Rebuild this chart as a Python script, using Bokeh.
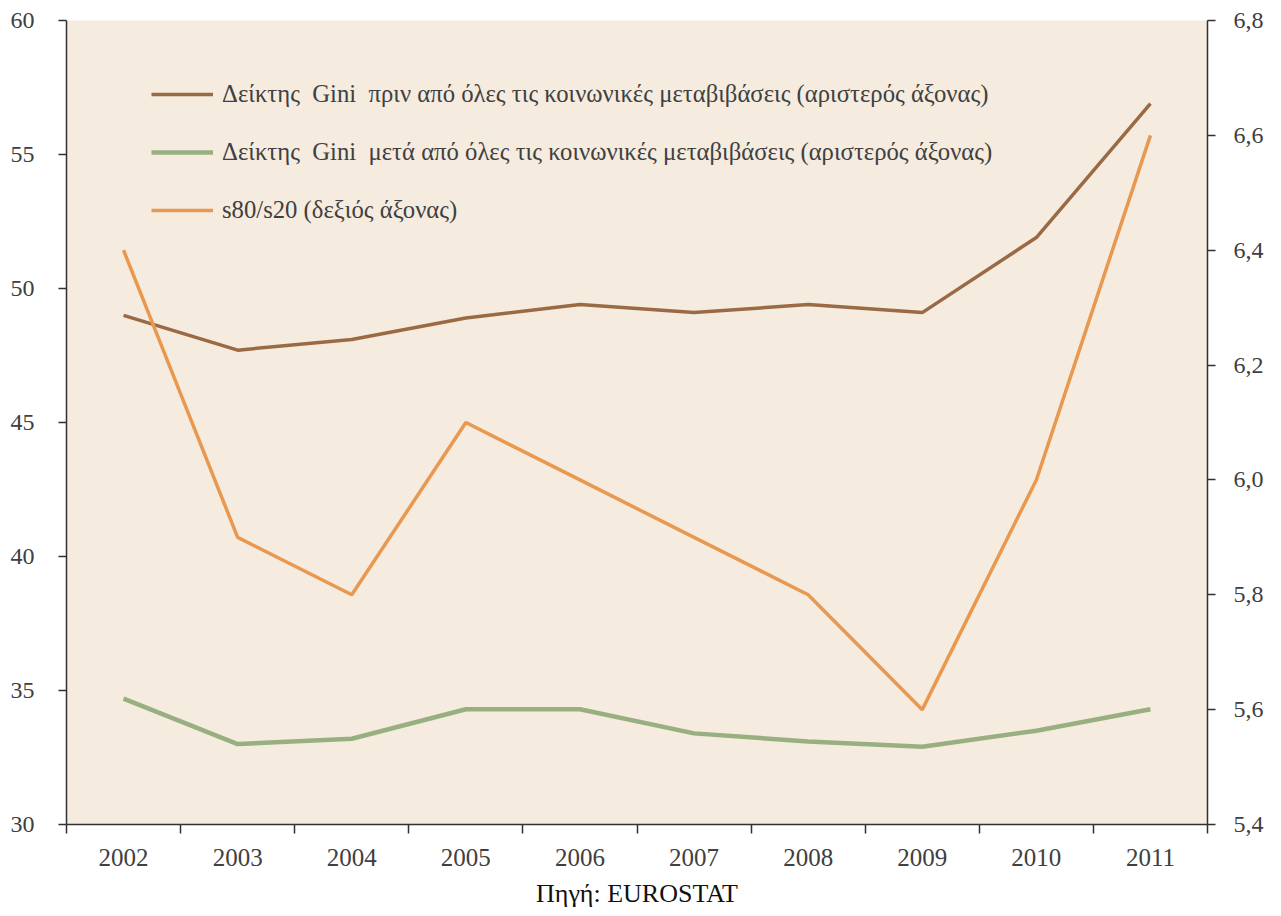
from bokeh.plotting import figure
from bokeh.models import (Range1d, LinearAxis, FixedTicker, CustomJSTickFormatter,
                          Legend, LegendItem, Title)
from bokeh.embed import file_html
from bokeh.resources import INLINE

years = ["2002", "2003", "2004", "2005", "2006", "2007", "2008", "2009", "2010", "2011"]
gini_before = [49.0, 47.7, 48.1, 48.9, 49.4, 49.1, 49.4, 49.1, 51.9, 56.9]
gini_after = [34.7, 33.0, 33.2, 34.3, 34.3, 33.4, 33.1, 32.9, 33.5, 34.3]
s80_s20 = [6.4, 5.9, 5.8, 6.1, 6.0, 5.9, 5.8, 5.6, 6.0, 6.6]
left_ticks = [30, 35, 40, 45, 50, 55, 60]
right_ticks = [5.4, 5.6, 5.8, 6.0, 6.2, 6.4, 6.6, 6.8]
labels = [
    "Δείκτης  Gini  πριν από όλες τις κοινωνικές μεταβιβάσεις (αριστερός άξονας)",
    "Δείκτης  Gini  μετά από όλες τις κοινωνικές μεταβιβάσεις (αριστερός άξονας)",
    "s80/s20 (δεξιός άξονας)",
]
source_text = "Πηγή: EUROSTAT"

xs = list(range(len(years)))
TEXT = "#404040"
TICK_FONT = "Liberation Serif"
LEG_FONT = "Liberation Sans Narrow"

p = figure(width=1273, height=916, output_backend="svg", toolbar_location=None,
           x_range=Range1d(-0.5, len(years) - 0.5), y_range=Range1d(30, 60),
           min_border_left=66, min_border_right=66, min_border_top=20, min_border_bottom=91,
           x_axis_location=None, y_axis_location=None)
p.extra_y_ranges = {"right": Range1d(5.4, 6.8)}
p.background_fill_color = "#F5EBDF"
p.border_fill_color = "white"
p.outline_line_color = None
p.xgrid.visible = False
p.ygrid.visible = False

# x axis: labels at category centres, ticks at boundaries
xaxis = LinearAxis(ticker=FixedTicker(ticks=xs, minor_ticks=[i - 0.5 for i in range(len(years) + 1)]),
                   major_label_overrides={i: y for i, y in enumerate(years)})
xaxis.major_tick_line_color = None
xaxis.minor_tick_in = 0
xaxis.minor_tick_out = 9
xaxis.minor_tick_line_color = "#303030"
xaxis.minor_tick_line_width = 1.5
xaxis.axis_line_color = "#303030"
xaxis.axis_line_width = 1.5
xaxis.major_label_standoff = 15
xaxis.major_label_text_font = TICK_FONT
xaxis.major_label_text_font_size = "25px"
xaxis.major_label_text_color = TEXT
p.add_layout(xaxis, "below")

laxis = LinearAxis(ticker=FixedTicker(ticks=left_ticks, minor_ticks=[]))
raxis = LinearAxis(y_range_name="right", ticker=FixedTicker(ticks=right_ticks, minor_ticks=[]),
                   formatter=CustomJSTickFormatter(code="return tick.toFixed(1).replace('.', ',');"))
for ax, so in ((laxis, 24), (raxis, 18)):
    ax.major_tick_in = 0
    ax.major_tick_out = 8
    ax.major_tick_line_color = "#303030"
    ax.major_tick_line_width = 1.5
    ax.axis_line_color = "#303030"
    ax.axis_line_width = 1.5
    ax.major_label_standoff = so
    ax.major_label_text_font = TICK_FONT
    ax.major_label_text_font_size = "24px"
    ax.major_label_text_color = TEXT
p.add_layout(laxis, "left")
p.add_layout(raxis, "right")

r1 = p.line(xs, gini_before, line_color="#9A6A45", line_width=3.5)
r2 = p.line(xs, gini_after, line_color="#98B080", line_width=4.5)
r3 = p.line(xs, s80_s20, line_color="#E8994F", line_width=3.5, y_range_name="right")

legend = Legend(items=[LegendItem(label=labels[0], renderers=[r1]),
                       LegendItem(label=labels[1], renderers=[r2]),
                       LegendItem(label=labels[2], renderers=[r3])],
                location=(85, 599))
legend.background_fill_alpha = 0
legend.border_line_color = None
legend.glyph_width = 62
legend.glyph_height = 30
legend.label_height = 30
legend.spacing = 28
legend.label_standoff = 9
legend.padding = 10
legend.label_text_font = LEG_FONT
legend.label_text_font_size = "24.7px"
legend.label_text_color = TEXT
p.add_layout(legend, "center")

src = Title(text=source_text, align="center", text_font="Liberation Serif",
            text_font_size="26px", text_font_style="normal", text_color="#111111",
            standoff=17, offset=0)
p.add_layout(src, "below")

open("out.html", "w").write(file_html(p, INLINE))
